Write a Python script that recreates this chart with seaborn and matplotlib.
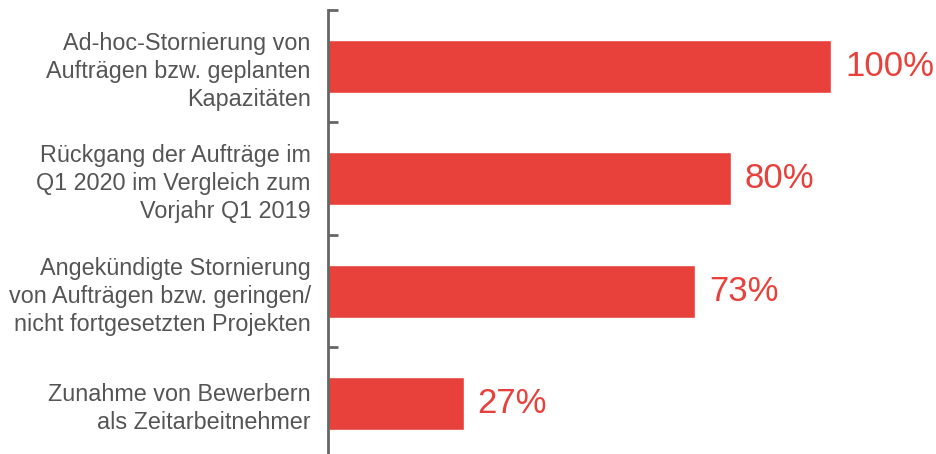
import matplotlib

matplotlib.use("Agg")

import matplotlib.pyplot as plt
import pandas as pd
import seaborn as sns
from matplotlib.ticker import FixedLocator


categories = [
    "Ad-hoc-Stornierung von\nAufträgen bzw. geplanten\nKapazitäten",
    "Rückgang der Aufträge im\nQ1 2020 im Vergleich zum\nVorjahr Q1 2019",
    "Angekündigte Stornierung\nvon Aufträgen bzw. geringen/\nnicht fortgesetzten Projekten",
    "Zunahme von Bewerbern\nals Zeitarbeitnehmer",
]
values = [100, 80, 73, 27]
value_labels = ["100%", "80%", "73%", "27%"]

BAR_COLOR = "#E8403A"
AXIS_COLOR = "#666666"
TEXT_COLOR = "#555555"

sns.set_style("white")
plt.rcParams["font.family"] = ["Liberation Sans", "DejaVu Sans"]

df = pd.DataFrame({"category": categories, "value": values})

fig = plt.figure(figsize=(9.36, 4.54), dpi=100)
ax = fig.add_axes([327.5 / 936, 0, 1 - 327.5 / 936, 444 / 454])

sns.barplot(data=df, x="value", y="category", color=BAR_COLOR, width=0.47,
            saturation=1, ax=ax)

ax.set_xlim(0, (936 - 327.5) / 5.04)
ax.set_ylim(3.447, -0.5)
ax.set_xlabel("")
ax.set_ylabel("")
ax.set_xticks([])

for spine in ["top", "right", "bottom"]:
    ax.spines[spine].set_visible(False)
ax.spines["left"].set_color(AXIS_COLOR)
ax.spines["left"].set_linewidth(2)

ax.tick_params(axis="y", which="major", length=0, pad=12, labelsize=16.8,
               labelcolor=TEXT_COLOR)
for label in ax.get_yticklabels():
    label.set_linespacing(1.28)
ax.yaxis.set_minor_locator(FixedLocator([-0.5, 0.5, 1.5, 2.5]))
ax.tick_params(axis="y", which="minor", left=True, direction="in", length=7,
               width=2, color=AXIS_COLOR)

for i, (v, txt) in enumerate(zip(values, value_labels)):
    ax.annotate(txt, xy=(v, i), xytext=(10, 0), textcoords="offset points",
                ha="left", va="center", fontsize=25, color=BAR_COLOR)

fig.savefig("out.png", dpi=100)
